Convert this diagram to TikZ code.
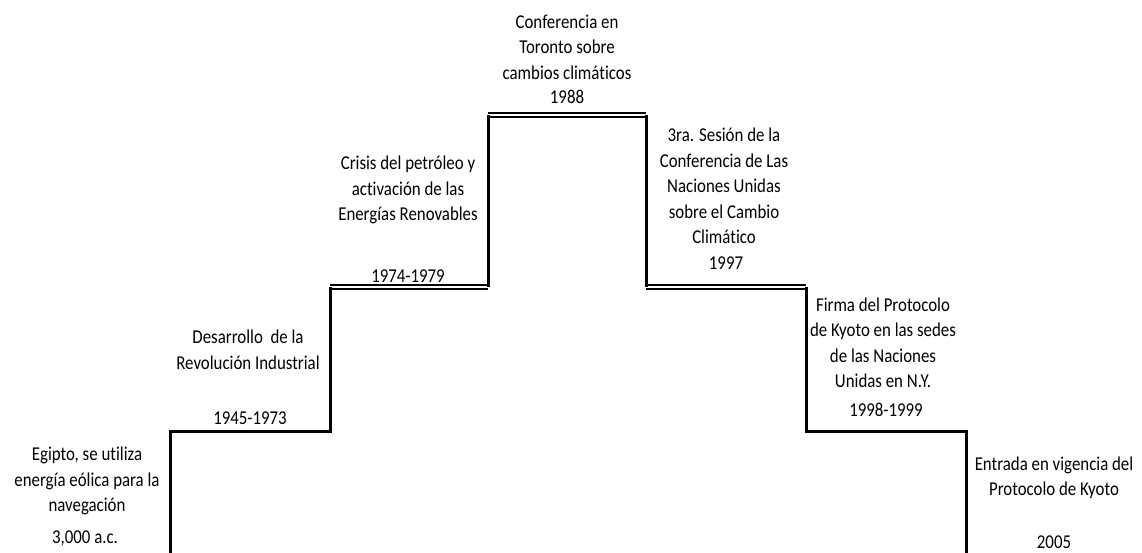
\documentclass[tikz,border=0pt]{standalone}
\usepackage{fontspec}
\setmainfont{Carlito}[FakeStretch=0.86, Ligatures=NoCommon]
\usetikzlibrary{positioning}

\begin{document}
\begin{tikzpicture}[x=1pt, y=-1pt,
  evento/.style={font=\fontsize{19.6}{25.5}\selectfont, align=center, inner sep=0pt},
  fecha/.style={font=\fontsize{19.6}{25.5}\selectfont, inner sep=0pt},
  muro/.style={line width=3pt},
  doble/.style={double, double distance=2pt, line width=2pt}]
\useasboundingbox (0,0) rectangle (1142,553);

% corners of the stairs
\coordinate (p0) at (170,553);
\coordinate (p1) at (170,431);
\coordinate (p2) at (330,431);
\coordinate (p3) at (330,287);
\coordinate (p4) at (488,287);
\coordinate (p5) at (488,115);
\coordinate (p6) at (646,115);
\coordinate (p7) at (646,287);
\coordinate (p8) at (806,287);
\coordinate (p9) at (806,431);
\coordinate (p10) at (966,431);
\coordinate (p11) at (966,553);

% steps
\draw[doble] (p3) -- (p4);
\draw[doble] (p5) -- (p6);
\draw[doble] (p7) -- (p8);
\draw[muro] (p0) -- (p1) -- (p2) -- (p3);
\draw[muro] (p4) -- (p5);
\draw[muro] (p6) -- (p7);
\draw[muro] (p8) -- (p9) -- (p10) -- (p11);

% events
\node[evento] (e1) at (87,481) {Egipto, se utiliza\\energía eólica para la\\navegación};
\node[fecha] (f1) at (85,538) {3,000 a.c.};

\node[evento] (e2) at (248,350) {Desarrollo\ \ de la\\Revolución Industrial};
\node[fecha] (f2) at (250,418) {1945-1973};

\node[evento] (e3) at (408,190) {Crisis del petróleo y\\activación de las\\Energías Renovables};
\node[fecha] (f3) at (408,276) {1974-1979};

\node[evento] (e4) at (567,47) {Conferencia en\\Toronto sobre\\cambios climáticos};
\node[fecha] (f4) at (567,97) {1988};

\node[evento] (e5) at (724,186) {3ra. Sesión de la\\Conferencia de Las\\Naciones Unidas\\sobre el Cambio\\Climático};
\node[fecha] (f5) at (726,263) {1997};

\node[evento] (e6) at (883,343) {Firma del Protocolo\\de Kyoto en las sedes\\de las Naciones\\Unidas en N.Y.};
\node[fecha] (f6) at (886,410) {1998-1999};

\node[evento] (e7) at (1054,478) {Entrada en vigencia del\\Protocolo de Kyoto};
\node[fecha] (f7) at (1054,542) {2005};
\end{tikzpicture}
\end{document}
